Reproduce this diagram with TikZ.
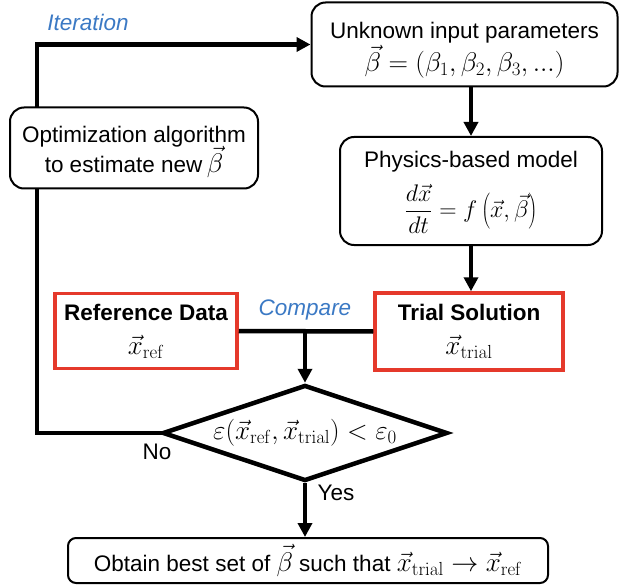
\documentclass[tikz,border=0pt]{standalone}
\usepackage{fix-cm}
\usepackage[no-math]{fontspec}
\setmainfont{Liberation Sans}
\usetikzlibrary{arrows.meta,shapes.geometric}
\definecolor{boxred}{HTML}{E5392B}
\definecolor{lblblue}{HTML}{3B79C4}
\newcommand{\mymath}[1]{{\fontsize{27}{30}\selectfont$#1$}}
\begin{document}
\begin{tikzpicture}[x=1pt,y=-1pt,
  font=\fontsize{22.5}{26}\selectfont,
  rbox/.style={draw,line width=2pt,rounded corners=14pt,fill=white,inner sep=0pt},
  redbox/.style={draw=boxred,line width=3.5pt,fill=white,align=center,inner sep=0pt},
  txt/.style={align=center,inner sep=0pt},
  conn/.style={line width=4.5pt},
  arr/.style={line width=4.5pt,-{Triangle[length=14pt,width=14pt]}},
  lbl/.style={text=lblblue,font=\fontsize{22.5}{26}\selectfont\itshape},
  plain/.style={inner sep=0pt}]
\useasboundingbox (0,0) rectangle (621,588);
% boxes
\node[rbox,minimum width=306,minimum height=84] (unk) at (464.5,44.5) {};
\node[txt] (unktxt) at (464.5,50)
  {Unknown input parameters\\[1pt] \mymath{\vec\beta=(\beta_1,\beta_2,\beta_3,...)}};
\node[rbox,minimum width=262,minimum height=108] (phys) at (471,191) {};
\node[txt] (phystxt) at (471,192.5)
  {Physics-based model\\[11pt] {\fontsize{24}{28}\selectfont$\displaystyle\frac{d\vec x}{dt}=f\left(\vec x,\vec\beta\right)$}};
\node[redbox,minimum width=182,minimum height=75] (ref) at (146,331)
  {\textbf{Reference Data}\\[8pt] \mymath{\vec x_{\mathrm{ref}}}};
\node[redbox,minimum width=188,minimum height=77] (trial) at (469,331.5)
  {\textbf{Trial Solution}\\[8pt] \mymath{\vec x_{\mathrm{trial}}}};
\node[diamond,draw,line width=4.5pt,minimum width=285,minimum height=96,inner sep=0pt] (dec) at (305,433) {};
\node[plain] (dectxt) at (dec.center) {\mymath{\varepsilon(\vec x_{\mathrm{ref}},\vec x_{\mathrm{trial}})<\varepsilon_0}};
\node[rbox,rounded corners=8pt,minimum width=480,minimum height=45] (bot) at (308,560.5) {};
\node[txt] (bottxt) at (bot.center)
  {Obtain best set of \mymath{\vec\beta} such that \mymath{\vec x_{\mathrm{trial}}\to\vec x_{\mathrm{ref}}}};
% connectors
\draw[arr] (phys.north |- unk.south) -- (phys.north);
\draw[arr] (phys.south) -- (phys.south |- trial.north);
\coordinate (cmp) at (dec.north |- ref.east);
\draw[conn] (ref.east) -- (trial.west);
\draw[arr] (cmp) -- (dec.north);
\coordinate (lp) at (37,433);
\draw[conn,line cap=rect] (dec.west) -- (lp);
\draw[arr] (lp) |- (unk.west);
\draw[arr] (dec.south) -- (dec.south |- bot.north);
% optimization box over the loop line
\node[rbox,minimum width=248,minimum height=81] (opt) at (134,148) {};
\node[txt] (opttxt) at (134,152)
  {Optimization algorithm\\[-2pt] to estimate new\mymath{\,\vec\beta}};
% labels
\node[lbl] (iter) at (88,22) {Iteration};
\node[lbl] (cmplbl) at (305,310) {Compare};
\node[plain] (no) at (157,452) {No};
\node[plain] (yes) at (336,493) {Yes};
\end{tikzpicture}
\end{document}
